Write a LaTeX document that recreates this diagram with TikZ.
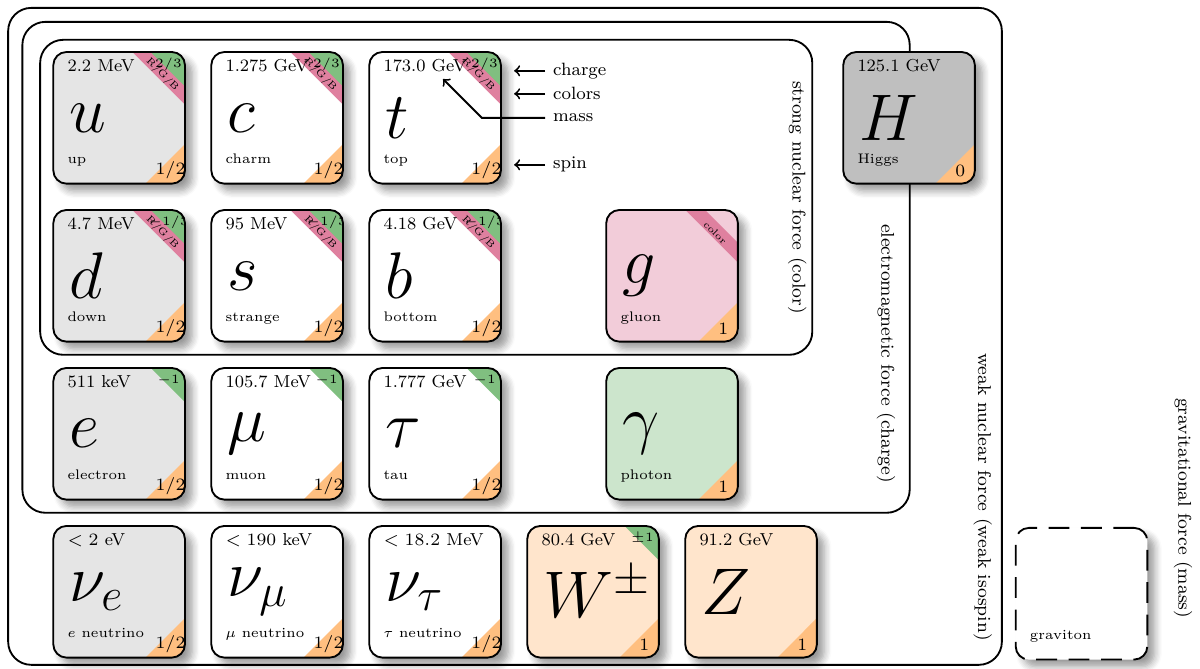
\RequirePackage{fix-cm}
\documentclass[tikz,border=0pt]{standalone}
\usetikzlibrary{shadows.blur}

\colorlet{chargecol}{green!50!black!50}
\colorlet{colorcol}{purple!50}
\colorlet{spincol}{orange!50}

\tikzset{
    card/.style={minimum width=2cm, minimum height=2cm, inner sep=0pt, outer sep=0pt,
        rounded corners=2mm,
        blur shadow={shadow xshift=0.11cm, shadow yshift=-0.11cm, shadow blur radius=0.11cm, shadow blur steps=6}},
    cardline/.style={thick, rounded corners=2mm},
    forcebox/.style={thick, rounded corners=3.5mm},
    masstext/.style={anchor=base west, inner sep=0pt, font=\fontsize{7.5}{9}\selectfont},
    symtext/.style={anchor=west, inner sep=0pt, font=\fontsize{28.5}{30}\selectfont},
    nametext/.style={anchor=base west, inner sep=0pt, font=\fontsize{6}{7}\selectfont},
    spintext/.style={inner sep=0pt, font=\fontsize{7.5}{9}\selectfont},
    chargetext/.style={inner sep=0pt, font=\fontsize{5.5}{6}\selectfont},
    colortext/.style={inner sep=0pt, rotate=-45, font=\fontsize{4.2}{5}\selectfont},
    forcetext/.style={rotate=-90, font=\fontsize{8}{10}\selectfont},
    annot/.style={anchor=west, font=\fontsize{7.7}{9}\selectfont},
}

\begin{document}
\begin{tikzpicture}
    \useasboundingbox (-1.81,1.79) rectangle (16.42,-8.37);
    % interaction boxes
    \draw[forcebox] (-1.686,1.67) rectangle (13.41,-8.31);
    \draw[forcebox] (-1.47,1.458) rectangle (12.01,-6.0);
    \draw[forcebox] (-1.2,1.185) rectangle (10.53,-3.6);
    \node[forcetext] (strong) at (10.30,-1.21) {strong nuclear force (color)};
    \node[forcetext] (em) at (11.65,-3.58) {electromagnetic force (charge)};
    \node[forcetext] (weak) at (13.12,-5.76) {weak nuclear force (weak isospin)};
    \node[forcetext] (grav) at (16.16,-5.93) {gravitational force (mass)};
    % particle cards: position / fill / name / mass / symbol / label / spin / charge / colour
    \foreach \cx/\cy/\cfill/\nm/\mass/\sym/\lbl/\spin/\chg/\ctxt in {
        0/0/black!10/u/{2.2 MeV}/u/up/{1/2}/{2/3}/{R/G/B},
        2.4/0/white/c/{1.275 GeV}/c/charm/{1/2}/{2/3}/{R/G/B},
        4.8/0/white/t/{173.0 GeV}/t/top/{1/2}/{2/3}/{R/G/B},
        0/-2.4/black!10/d/{4.7 MeV}/d/down/{1/2}/{-1/3}/{R/G/B},
        2.4/-2.4/white/s/{95 MeV}/s/strange/{1/2}/{-1/3}/{R/G/B},
        4.8/-2.4/white/b/{4.18 GeV}/b/bottom/{1/2}/{-1/3}/{R/G/B},
        8.4/-2.4/purple!20/g/{}/g/gluon/1/{}/color,
        0/-4.8/black!10/e/{511 keV}/e/electron/{1/2}/-1/{},
        2.4/-4.8/white/mu/{105.7 MeV}/\mu/muon/{1/2}/-1/{},
        4.8/-4.8/white/tau/{1.777 GeV}/\tau/tau/{1/2}/-1/{},
        8.4/-4.8/green!50!black!20/gamma/{}/\gamma/photon/1/{}/{},
        0/-7.2/black!10/nue/{$<2$ eV}/\nu_e/{$e$ neutrino}/{1/2}/{}/{},
        2.4/-7.2/white/numu/{$<190$ keV}/\nu_\mu/{$\mu$ neutrino}/{1/2}/{}/{},
        4.8/-7.2/white/nutau/{$<18.2$ MeV}/\nu_\tau/{$\tau$ neutrino}/{1/2}/{}/{},
        7.2/-7.2/orange!20/W/{80.4 GeV}/W^\pm/{}/1/\pm1/{},
        9.6/-7.2/orange!20/Z/{91.2 GeV}/Z/{}/1/{}/{},
        12/0/black!25/H/{125.1 GeV}/H/Higgs/0/{}/{}} {
        \node[card, fill=\cfill] (\nm) at (\cx,\cy) {};
        \begin{scope}
            \clip[rounded corners=2mm] (\nm.south west) rectangle (\nm.north east);
            \ifx\ctxt\empty\else
                \fill[colorcol] ([xshift=-0.8cm]\nm.north east) -- ([xshift=-0.5cm]\nm.north east)
                    -- ([yshift=-0.5cm]\nm.north east) -- ([yshift=-0.8cm]\nm.north east) -- cycle;
                \node[colortext] (\nm-color) at ([shift={(-0.345,-0.345)}]\nm.north east) {\ctxt};
            \fi
            \ifx\chg\empty\else
                \fill[chargecol] (\nm.north east) -- ([xshift=-0.52cm]\nm.north east)
                    -- ([yshift=-0.52cm]\nm.north east) -- cycle;
                \node[chargetext] (\nm-charge) at ([shift={(-0.25,-0.19)}]\nm.north east) {$\chg$};
            \fi
            \fill[spincol] (\nm.south east) -- ++(-0.6,0) -- ++(0.6,0.6) -- cycle;
        \end{scope}
        \draw[cardline] (\nm.south west) rectangle (\nm.north east);
        \node[masstext] (\nm-mass) at ([shift={(0.21,-0.3)}]\nm.north west) {\mass};
        \node[symtext] (\nm-sym) at ([xshift=0.24cm]\nm.west) {$\sym$};
        \node[nametext] (\nm-name) at ([shift={(0.21,0.3)}]\nm.south west) {\lbl};
        \node[spintext] (\nm-spin) at ([shift={(-0.22,0.2)}]\nm.south east) {$\spin$};
    }
    % graviton
    \node[card, fill=white, draw, thick, dash pattern=on 9pt off 5pt] (graviton) at (14.62,-7.23) {};
    \node[nametext] (graviton-name) at ([shift={(0.21,0.3)}]graviton.south west) {graviton};
    % legend for the top card
    \node[annot] (chargelbl) at (6.47,0.714) {charge};
    \node[annot] (colorslbl) at (6.47,0.365) {colors};
    \node[annot] (masslbl) at (6.47,0.0) {mass};
    \node[annot] (spinlbl) at (6.47,-0.714) {spin};
    \coordinate (chargetip) at (6.0,0.714);
    \coordinate (colorstip) at (6.0,0.365);
    \coordinate (massbend) at (5.51,0.0);
    \coordinate (masstip) at (4.92,0.59);
    \coordinate (spintip) at (6.0,-0.714);
    \draw[->, thick] (chargelbl) -- (chargetip);
    \draw[->, thick] (colorslbl) -- (colorstip);
    \draw[->, thick] (masslbl) -- (massbend) -- (masstip);
    \draw[->, thick] (spinlbl) -- (spintip);
\end{tikzpicture}
\end{document}
